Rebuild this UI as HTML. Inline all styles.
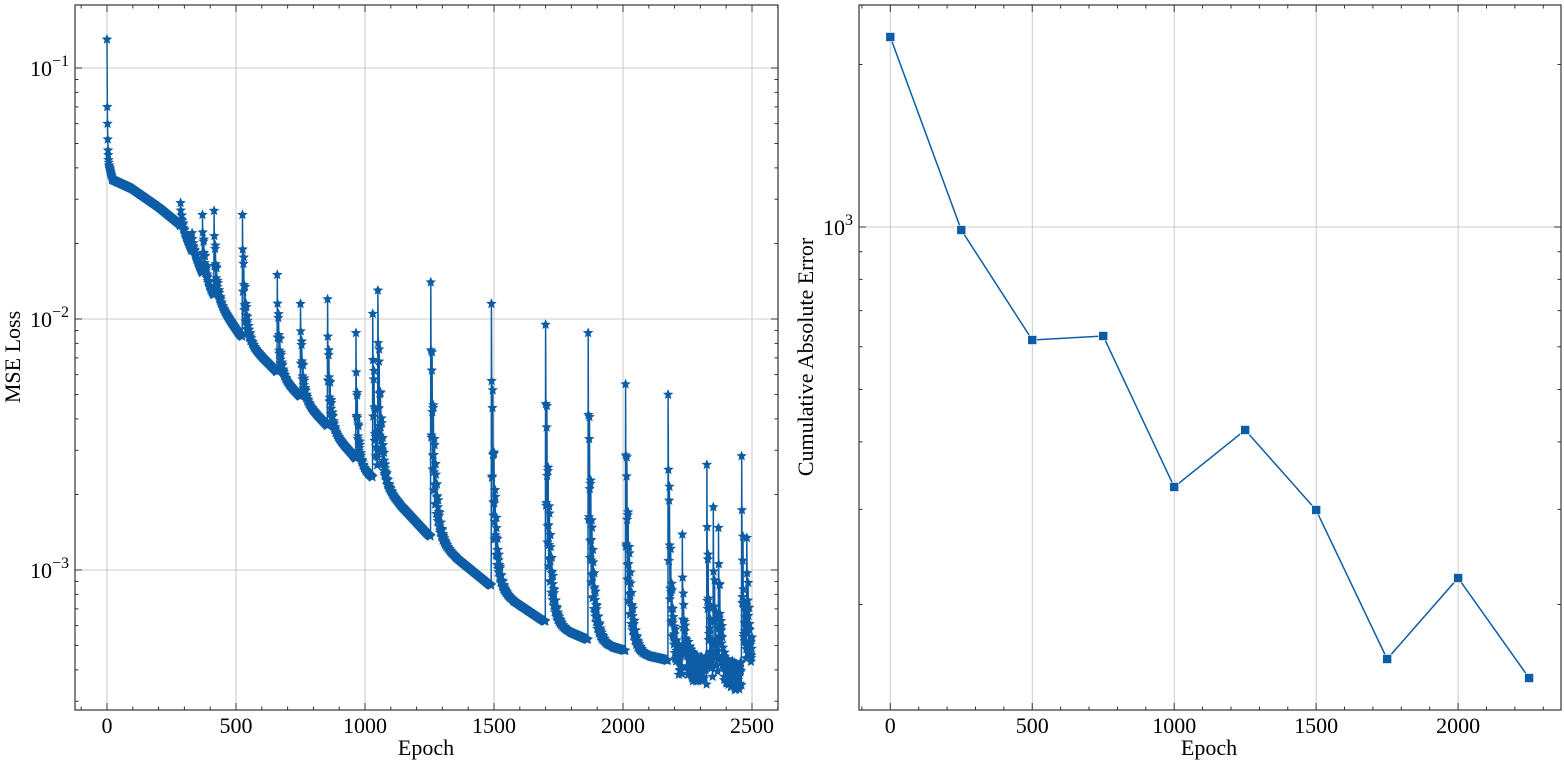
<!DOCTYPE html>
<html><head><meta charset="utf-8"><style>
body{margin:0;background:#fff;}
svg text{font-family:"Liberation Serif",serif;fill:#000;}
</style></head><body>
<svg id="s" width="1564" height="765" xmlns="http://www.w3.org/2000/svg"></svg>
<script>
const S=document.getElementById('s');let h='';
const C='#0C5DA5';
function ax(x0,y0,x1,y1,xmap,xt,xminor,ymap,ymaj,ymin){
 xt.forEach(v=>{const x=xmap(v);h+=`<line x1="${x}" y1="${y0}" x2="${x}" y2="${y1}" stroke="#bdbdbd" stroke-width="0.8"/>`;});
 ymaj.forEach(([v,l])=>{const y=ymap(v);h+=`<line x1="${x0}" y1="${y}" x2="${x1}" y2="${y}" stroke="#bdbdbd" stroke-width="0.8"/>`;});
}
function frame(x0,y0,x1,y1,xmap,xt,xminor,ymap,ymaj,ymin){
 let t='';
 xt.forEach(v=>{const x=xmap(v);t+=`M${x} ${y1}v-7M${x} ${y0}v7`;h+=`<text x="${x}" y="${y1+23}" font-size="22" text-anchor="middle">${v}</text>`;});
 xminor.forEach(v=>{const x=xmap(v);if(x>x0&&x<x1)t+=`M${x} ${y1}v-3.5M${x} ${y0}v3.5`;});
 ymaj.forEach(([v,l])=>{const y=ymap(v);t+=`M${x0} ${y}h7M${x1} ${y}h-7`;h+=`<text x="${x0-6}" y="${y+8}" font-size="22" text-anchor="end">${l}</text>`;});
 ymin.forEach(v=>{const y=ymap(v);if(y>y0&&y<y1)t+=`M${x0} ${y}h3.5M${x1} ${y}h-3.5`;});
 h+=`<path d="${t}" stroke="#333" stroke-width="1" fill="none"/>`;
 h+=`<rect x="${x0}" y="${y0}" width="${x1-x0}" height="${y1-y0}" fill="none" stroke="#333" stroke-width="1.2"/>`;
}
const LX=e=>107+e*0.258, LY=v=>68-(Math.log10(v)+1)*251;
const xt=[0,500,1000,1500,2000,2500], xm=[];for(let i=-100;i<=2600;i+=100)xm.push(i);
const ymajL=[[0.1,'10<tspan dy="-10" font-size="16">−1</tspan>'],[0.01,'10<tspan dy="-10" font-size="16">−2</tspan>'],[0.001,'10<tspan dy="-10" font-size="16">−3</tspan>']];
const yminL=[];[1e-4,1e-3,1e-2,1e-1].forEach(d=>{for(let k=2;k<10;k++)yminL.push(d*k);});
ax(75,5,778,710,LX,xt,xm,LY,ymajL,yminL);
const base=[[10,0.04],[20,0.036],[100,0.033],[200,0.028],[280,0.024],[400,0.013],[510,0.0088],[650,0.0063],[750,0.0049],[850,0.0038],[950,0.0029],[1000,0.0025],[1100,0.002],[1240,0.0014],[1480,0.00088],[1690,0.00063],[1860,0.00053],[2000,0.00048],[2160,0.00044],[2300,0.0004],[2450,0.00038],[2500,0.00042]];
function B(e){for(let i=0;i<base.length-1;i++){const[a,va]=base[i],[b,vb]=base[i+1];if(e<=b){const t=(e-a)/(b-a);return Math.pow(10,Math.log10(va)+t*(Math.log10(vb)-Math.log10(va)));}}return 0.00042;}
const spikes=[[285,0.029,8],[330,0.022,8],[370,0.026,10],[415,0.027,10],[525,0.026,12],[660,0.015,10],[750,0.0115,10],[855,0.012,10],[965,0.0088,8],[1030,0.0105,12],[1050,0.013,14],[1255,0.014,16],[1490,0.0115,14],[1700,0.0095,16],[1865,0.0088,16],[2010,0.0055,16],[2175,0.005,12],[2230,0.0013,10],[2325,0.0027,10],[2350,0.0016,8],[2370,0.0014,10],[2460,0.0027,10],[2480,0.0014,10]];
let seed=3;const rnd=()=>{seed=(seed*9301+49297)%233280;return seed/233280;};
const pts=[];
for(let e=0;e<=2500;e++){
 let v;
 if(e==0)v=0.13;else if(e<10){v=[0,0.07,0.06,0.052,0.047,0.045,0.043,0.042,0.041,0.0405][e];}
 else{const b=B(e);let lv=Math.log10(b);
  spikes.forEach(([s,p,tau])=>{if(e>=s&&e<s+tau*6){const f=Math.exp(-(e-s)/tau)*(0.7+0.3*Math.cos((e-s)*1.3));lv=Math.max(lv,Math.log10(b)+f*(Math.log10(p)-Math.log10(b)));}});
  if(e>2200) lv+= (rnd()-0.5)*0.12;
  v=Math.pow(10,lv);}
 pts.push([LX(e),LY(v)]);
}
h+=`<path d="M${pts.map(p=>p[0].toFixed(1)+' '+p[1].toFixed(1)).join('L')}" stroke="${C}" stroke-width="1.5" fill="none"/>`;
function star(x,y,r){let d='';for(let i=0;i<10;i++){const a=-Math.PI/2+i*Math.PI/5,rr=i%2?r*0.45:r;d+=(i?'L':'M')+(x+rr*Math.cos(a)).toFixed(1)+' '+(y+rr*Math.sin(a)).toFixed(1);}return d+'Z';}
let sd='';pts.forEach(p=>sd+=star(p[0],p[1],5.5));
h+=`<path d="${sd}" fill="${C}"/>`;
frame(75,5,778,710,LX,xt,xm,LY,ymajL,yminL);
h+=`<text x="426" y="755" font-size="22" text-anchor="middle">Epoch</text>`;
h+=`<text transform="translate(20,357) rotate(-90)" font-size="22" text-anchor="middle">MSE Loss</text>`;
const RX=e=>890.3+e*0.2839, RY=v=>227-(Math.log10(v)-3)*540;
const xtR=[0,500,1000,1500,2000],xmR=[];for(let i=-100;i<=2400;i+=100)xmR.push(i);
const ymajR=[[1000,'10<tspan dy="-10" font-size="16">3</tspan>']];
const yminR=[200,300,400,500,600,700,800,900,2000,3000];
ax(859,5,1561,710,RX,xtR,xmR,RY,ymajR,yminR);
const rp=[[0,37],[250,230],[500,340],[750,336],[1000,487],[1250,430],[1500,510],[1750,659],[2000,578],[2250,678]].map(([e,y])=>[RX(e),y]);
h+=`<path d="M${rp.map(p=>p[0].toFixed(1)+' '+p[1]).join('L')}" stroke="${C}" stroke-width="1.5" fill="none"/>`;
rp.forEach(p=>h+=`<rect x="${p[0]-4.5}" y="${p[1]-4.5}" width="9" height="9" fill="${C}" stroke="#fff" stroke-width="0.6"/>`);
frame(859,5,1561,710,RX,xtR,xmR,RY,ymajR,yminR);
h+=`<text x="1209" y="755" font-size="22" text-anchor="middle">Epoch</text>`;
h+=`<text transform="translate(813,357) rotate(-90)" font-size="22" text-anchor="middle">Cumulative Absolute Error</text>`;
S.innerHTML=h;
</script>
</body></html>
